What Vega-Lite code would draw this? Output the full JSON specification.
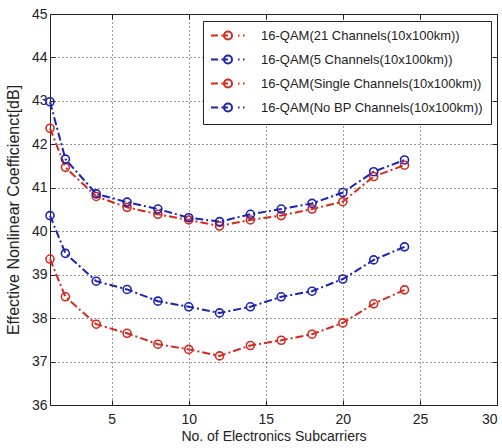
{
  "$schema": "https://vega.github.io/schema/vega-lite/v6.json",
  "width": 447,
  "height": 391,
  "autosize": {"type": "none"},
  "padding": {"left": 50, "top": 14, "right": 5, "bottom": 43},
  "background": "white",
  "config": {
    "view": {"stroke": "#222", "strokeWidth": 1}
  },
  "data": {
    "values": [
      {"x": 1, "y": 42.37, "series": "16-QAM(21 Channels(10x100km))"},
      {"x": 2, "y": 41.47, "series": "16-QAM(21 Channels(10x100km))"},
      {"x": 4, "y": 40.80, "series": "16-QAM(21 Channels(10x100km))"},
      {"x": 6, "y": 40.55, "series": "16-QAM(21 Channels(10x100km))"},
      {"x": 8, "y": 40.39, "series": "16-QAM(21 Channels(10x100km))"},
      {"x": 10, "y": 40.26, "series": "16-QAM(21 Channels(10x100km))"},
      {"x": 12, "y": 40.12, "series": "16-QAM(21 Channels(10x100km))"},
      {"x": 14, "y": 40.26, "series": "16-QAM(21 Channels(10x100km))"},
      {"x": 16, "y": 40.36, "series": "16-QAM(21 Channels(10x100km))"},
      {"x": 18, "y": 40.51, "series": "16-QAM(21 Channels(10x100km))"},
      {"x": 20, "y": 40.68, "series": "16-QAM(21 Channels(10x100km))"},
      {"x": 22, "y": 41.26, "series": "16-QAM(21 Channels(10x100km))"},
      {"x": 24, "y": 41.52, "series": "16-QAM(21 Channels(10x100km))"},
      {"x": 1, "y": 42.98, "series": "16-QAM(5 Channels(10x100km))"},
      {"x": 2, "y": 41.66, "series": "16-QAM(5 Channels(10x100km))"},
      {"x": 4, "y": 40.86, "series": "16-QAM(5 Channels(10x100km))"},
      {"x": 6, "y": 40.67, "series": "16-QAM(5 Channels(10x100km))"},
      {"x": 8, "y": 40.51, "series": "16-QAM(5 Channels(10x100km))"},
      {"x": 10, "y": 40.31, "series": "16-QAM(5 Channels(10x100km))"},
      {"x": 12, "y": 40.22, "series": "16-QAM(5 Channels(10x100km))"},
      {"x": 14, "y": 40.39, "series": "16-QAM(5 Channels(10x100km))"},
      {"x": 16, "y": 40.51, "series": "16-QAM(5 Channels(10x100km))"},
      {"x": 18, "y": 40.64, "series": "16-QAM(5 Channels(10x100km))"},
      {"x": 20, "y": 40.89, "series": "16-QAM(5 Channels(10x100km))"},
      {"x": 22, "y": 41.37, "series": "16-QAM(5 Channels(10x100km))"},
      {"x": 24, "y": 41.64, "series": "16-QAM(5 Channels(10x100km))"},
      {"x": 1, "y": 39.36, "series": "16-QAM(Single Channels(10x100km))"},
      {"x": 2, "y": 38.49, "series": "16-QAM(Single Channels(10x100km))"},
      {"x": 4, "y": 37.86, "series": "16-QAM(Single Channels(10x100km))"},
      {"x": 6, "y": 37.65, "series": "16-QAM(Single Channels(10x100km))"},
      {"x": 8, "y": 37.40, "series": "16-QAM(Single Channels(10x100km))"},
      {"x": 10, "y": 37.28, "series": "16-QAM(Single Channels(10x100km))"},
      {"x": 12, "y": 37.13, "series": "16-QAM(Single Channels(10x100km))"},
      {"x": 14, "y": 37.37, "series": "16-QAM(Single Channels(10x100km))"},
      {"x": 16, "y": 37.49, "series": "16-QAM(Single Channels(10x100km))"},
      {"x": 18, "y": 37.63, "series": "16-QAM(Single Channels(10x100km))"},
      {"x": 20, "y": 37.89, "series": "16-QAM(Single Channels(10x100km))"},
      {"x": 22, "y": 38.33, "series": "16-QAM(Single Channels(10x100km))"},
      {"x": 24, "y": 38.65, "series": "16-QAM(Single Channels(10x100km))"},
      {"x": 1, "y": 40.36, "series": "16-QAM(No BP Channels(10x100km))"},
      {"x": 2, "y": 39.49, "series": "16-QAM(No BP Channels(10x100km))"},
      {"x": 4, "y": 38.85, "series": "16-QAM(No BP Channels(10x100km))"},
      {"x": 6, "y": 38.66, "series": "16-QAM(No BP Channels(10x100km))"},
      {"x": 8, "y": 38.39, "series": "16-QAM(No BP Channels(10x100km))"},
      {"x": 10, "y": 38.26, "series": "16-QAM(No BP Channels(10x100km))"},
      {"x": 12, "y": 38.12, "series": "16-QAM(No BP Channels(10x100km))"},
      {"x": 14, "y": 38.26, "series": "16-QAM(No BP Channels(10x100km))"},
      {"x": 16, "y": 38.49, "series": "16-QAM(No BP Channels(10x100km))"},
      {"x": 18, "y": 38.62, "series": "16-QAM(No BP Channels(10x100km))"},
      {"x": 20, "y": 38.90, "series": "16-QAM(No BP Channels(10x100km))"},
      {"x": 22, "y": 39.34, "series": "16-QAM(No BP Channels(10x100km))"},
      {"x": 24, "y": 39.64, "series": "16-QAM(No BP Channels(10x100km))"}
    ]
  },
  "layer": [
    {
      "mark": {"type": "line", "strokeWidth": 2, "strokeDash": [8, 3, 2, 3]},
      "encoding": {
        "x": {
          "field": "x", "type": "quantitative",
          "scale": {"domain": [1, 30], "nice": false, "zero": false},
          "axis": {"values": [5, 10, 15, 20, 25, 30], "grid": true, "gridDash": [1, 3], "gridColor": "#222", "gridOpacity": 0.9, "domain": false, "tickColor": "#222", "tickSize": -5, "labelFont": "Liberation Sans Narrow, Liberation Sans, Arial", "labelFontSize": 14, "labelColor": "#222", "title": "No. of Electronics Subcarriers", "titleFont": "Liberation Sans, Arial", "titleFontWeight": "normal", "titleColor": "#222", "titleFontSize": 14, "titlePadding": 3, "labelPadding": 12}
        },
        "y": {
          "field": "y", "type": "quantitative",
          "scale": {"domain": [36, 45], "nice": false, "zero": false},
          "axis": {"values": [36, 37, 38, 39, 40, 41, 42, 43, 44, 45], "grid": true, "gridDash": [1, 3], "gridColor": "#222", "gridOpacity": 0.9, "domain": false, "tickColor": "#222", "tickSize": -5, "labelFont": "Liberation Sans Narrow, Liberation Sans, Arial", "labelFontSize": 14, "labelColor": "#222", "title": "Effective Nonlinear Coefficienct[dB]", "titleFont": "Liberation Sans, Arial", "titleFontWeight": "normal", "titleColor": "#222", "titleFontSize": 16, "titlePadding": 10, "labelPadding": 8}
        },
        "color": {
          "field": "series", "type": "nominal",
          "scale": {
            "domain": ["16-QAM(21 Channels(10x100km))", "16-QAM(5 Channels(10x100km))", "16-QAM(Single Channels(10x100km))", "16-QAM(No BP Channels(10x100km))"],
            "range": ["#d62a1e", "#1c22b4", "#d62a1e", "#1c22b4"]
          },
          "legend": {
            "orient": "none", "legendX": 153, "legendY": 7,
            "title": null,
            "fillColor": "white", "strokeColor": "#222",
            "padding": 8,
            "labelFont": "Liberation Sans, Arial", "labelFontSize": 13, "labelColor": "#222", "labelLimit": 400,
            "symbolType": "M-3.3,0H-1.9M-1.2,0H0.1M0.9,0A0.8,0.8,0,1,1,-0.7,0A0.8,0.8,0,1,1,0.9,0M2.1,0H2.4M3.1,0H3.4",
            "symbolSize": 100, "symbolStrokeWidth": 2, "symbolFillColor": "transparent",
            "symbolOffset": 10, "labelOffset": 27, "rowPadding": 7
          }
        },
        "detail": {"field": "series"}
      }
    },
    {
      "mark": {"type": "point", "shape": "circle", "filled": false, "size": 64, "strokeWidth": 1.6, "opacity": 1},
      "encoding": {
        "x": {"field": "x", "type": "quantitative", "axis": {"orient": "top", "values": [5, 10, 15, 20, 25, 30], "labels": false, "grid": false, "domain": false, "tickColor": "#222", "tickSize": -5, "title": null}},
        "y": {"field": "y", "type": "quantitative", "axis": {"orient": "right", "values": [36, 37, 38, 39, 40, 41, 42, 43, 44, 45], "labels": false, "grid": false, "domain": false, "tickColor": "#222", "tickSize": -5, "title": null}},
        "color": {"field": "series", "type": "nominal"}
      }
    }
  ],
  "resolve": {"axis": {"x": "independent", "y": "independent"}}
}
